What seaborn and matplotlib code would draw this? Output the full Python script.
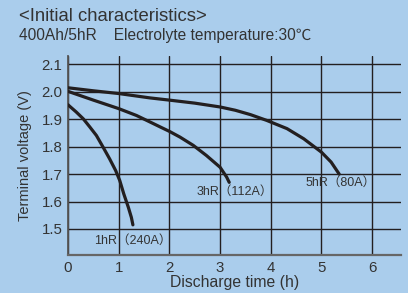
import pandas as pd
import matplotlib
matplotlib.use("Agg")
import matplotlib.pyplot as plt
import seaborn as sns

# --- data ---
x_1hr = [0, 0.03, 0.16, 0.30, 0.43, 0.56, 0.69, 0.82, 0.94, 1.02, 1.10, 1.19, 1.25, 1.28]
y_1hr = [1.953, 1.948, 1.927, 1.902, 1.872, 1.841, 1.799, 1.756, 1.713, 1.677, 1.628, 1.579, 1.542, 1.515]

x_3hr = [0, 0.5, 1.0, 1.35, 1.62, 1.82, 2.0, 2.21, 2.47, 2.73, 3.0, 3.13, 3.18]
y_3hr = [2.002, 1.970, 1.939, 1.914, 1.890, 1.872, 1.856, 1.835, 1.805, 1.768, 1.725, 1.689, 1.670]

x_5hr = [0, 0.5, 1.0, 1.62, 2.0, 2.5, 3.0, 3.3, 3.6, 3.92, 4.32, 4.65, 5.0, 5.19, 5.35]
y_5hr = [2.015, 2.004, 1.994, 1.978, 1.970, 1.959, 1.945, 1.933, 1.917, 1.896, 1.866, 1.829, 1.780, 1.744, 1.700]

curve_labels = ["1hR（240A）", "3hR（112A）", "5hR（80A）"]
label_x = [1.27, 3.28, 5.38]
label_y = [1.457, 1.636, 1.669]

x_ticks = [0, 1, 2, 3, 4, 5, 6]
y_ticks = [1.5, 1.6, 1.7, 1.8, 1.9, 2.0, 2.1]

bg = "#aacdec"
ink = "#231f20"

sns.set_style("white")
plt.rcParams['font.family'] = ['Liberation Sans', 'Noto Sans CJK JP', 'DejaVu Sans']

fig = plt.figure(figsize=(4.08, 2.93), dpi=100, facecolor=bg)
ax = fig.add_axes([0.1667, 0.1297, 0.8163, 0.6783])
ax.set_facecolor(bg)

df = pd.concat([
    pd.DataFrame({"t": x_1hr, "v": y_1hr, "rate": curve_labels[0]}),
    pd.DataFrame({"t": x_3hr, "v": y_3hr, "rate": curve_labels[1]}),
    pd.DataFrame({"t": x_5hr, "v": y_5hr, "rate": curve_labels[2]}),
])
for lab in curve_labels:
    sub = df[df["rate"] == lab]
    sns.lineplot(x="t", y="v", data=sub, ax=ax, color=ink, linewidth=2.3,
                 sort=False, estimator=None, zorder=3)
for line in ax.lines:
    line.set_solid_joinstyle("round")

for lab, lx, ly in zip(curve_labels, label_x, label_y):
    ax.text(lx, ly, lab, fontsize=9, color="#333333", ha="center", va="center", zorder=4)

ax.set_xlim(0, 6.57)
ax.set_ylim(1.405, 2.13)
ax.set_xticks(x_ticks)
ax.set_yticks(y_ticks)
ax.set_yticklabels([f"{v:.1f}" for v in y_ticks])
ax.tick_params(axis="both", length=0, labelsize=10.8, labelcolor="#333333", pad=4)
ax.grid(True, color=ink, linewidth=1.0)
ax.set_axisbelow(True)
for s in ["top", "right"]:
    ax.spines[s].set_visible(False)
ax.spines["left"].set_color("#555555")
ax.spines["left"].set_linewidth(1.3)
ax.spines["bottom"].set_color("#666666")
ax.spines["bottom"].set_linewidth(1.6)

ax.set_xlabel("Discharge time (h)", fontsize=11.3, color="#333333", labelpad=0)
ax.set_ylabel("Terminal voltage (V)", fontsize=10.5, color="#333333", labelpad=7)

fig.text(0.047, 0.945, "<Initial characteristics>", fontsize=13.3, color="#333333", va="center")
fig.text(0.047, 0.88, "400Ah/5hR    Electrolyte temperature:30℃", fontsize=11.2,
         color="#333333", va="center")

fig.savefig("out.png", dpi=100, facecolor=bg)
